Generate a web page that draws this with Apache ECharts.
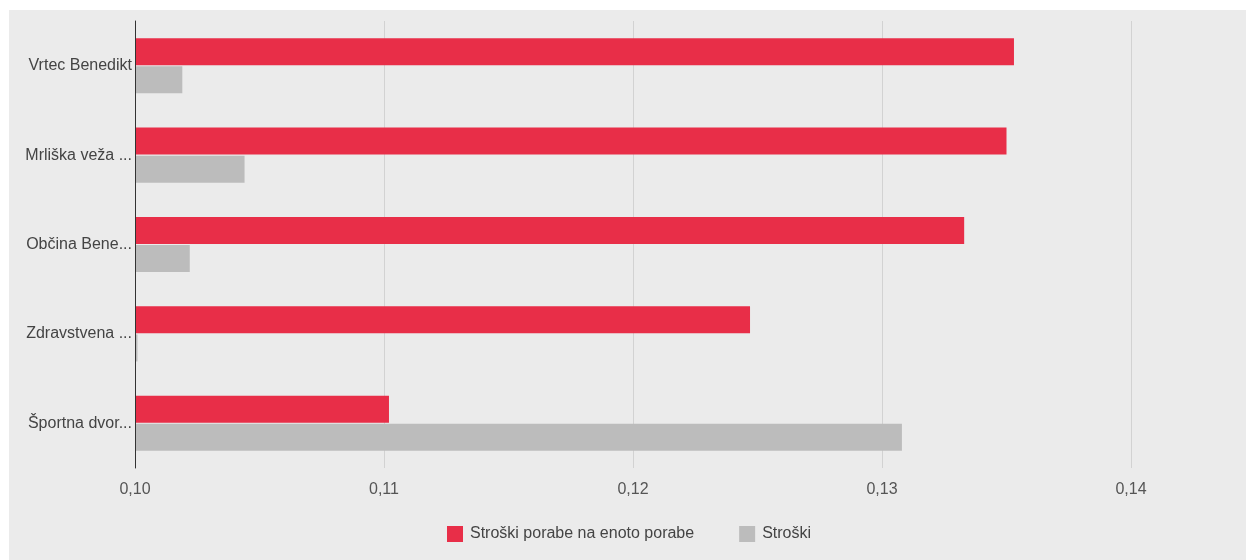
<!DOCTYPE html>
<html><head><meta charset="utf-8">
<script src="https://cdn.jsdelivr.net/npm/echarts@6/dist/echarts.min.js"></script>
<style>
html,body{margin:0;padding:0;background:#fff;}
#wrap{position:relative;width:1246px;height:560px;background:#fff;}
#chart{position:absolute;left:9px;top:10px;width:1237px;height:550px;background:#ebebeb;}
</style></head>
<body><div id="wrap"><div id="chart"></div></div>
<script>
const categories = ['Vrtec Benedikt', 'Mrliška veža ...', 'Občina Bene...', 'Zdravstvena ...', 'Športna dvor...'];
const seriesNames = ['Stroški porabe na enoto porabe', 'Stroški'];
const costPerUnit = [0.1353, 0.1350, 0.1333, 0.1247, 0.1102];
const costs = [0.1019, 0.1044, 0.1022, 0.1001, 0.1308];
const xTicks = [0.10, 0.11, 0.12, 0.13, 0.14];

const chart = echarts.init(document.getElementById('chart'), null, {renderer: 'canvas'});
const font = 'Arial, "Liberation Sans", sans-serif';
chart.setOption({
  backgroundColor: '#ebebeb',
  animation: false,
  textStyle: {fontFamily: font},
  grid: {left: 126, top: 11, width: 996, height: 447, containLabel: false},
  legend: {
    data: seriesNames,
    left: 433, top: 511,
    itemWidth: 16, itemHeight: 16, itemGap: 45,
    icon: 'rect',
    textStyle: {fontFamily: font, fontSize: 16, color: '#444', padding: [0, 0, 0, 2]}
  },
  xAxis: {
    type: 'value',
    min: xTicks[0], max: xTicks[xTicks.length - 1], interval: 0.01,
    axisLine: {show: false},
    axisTick: {show: false},
    splitLine: {show: true, showMinLine: false, lineStyle: {color: '#d2d2d2', width: 1}},
    axisLabel: {
      margin: 14, fontSize: 16, color: '#555', fontFamily: font,
      formatter: v => v.toFixed(2).replace('.', ',')
    }
  },
  yAxis: {
    type: 'category',
    data: categories,
    inverse: true,
    z: 5,
    axisLine: {show: true, onZero: false, lineStyle: {color: '#333', width: 1}},
    axisTick: {show: false},
    splitLine: {show: false},
    axisLabel: {margin: 3, fontSize: 16, color: '#444', fontFamily: font}
  },
  series: [
    {name: seriesNames[0], type: 'bar', data: costPerUnit, barWidth: 27, barGap: '4%',
     itemStyle: {color: '#e82e48'}},
    {name: seriesNames[1], type: 'bar', data: costs, barWidth: 27, barGap: '4%',
     itemStyle: {color: '#bcbcbc'}}
  ]
});
</script></body></html>
